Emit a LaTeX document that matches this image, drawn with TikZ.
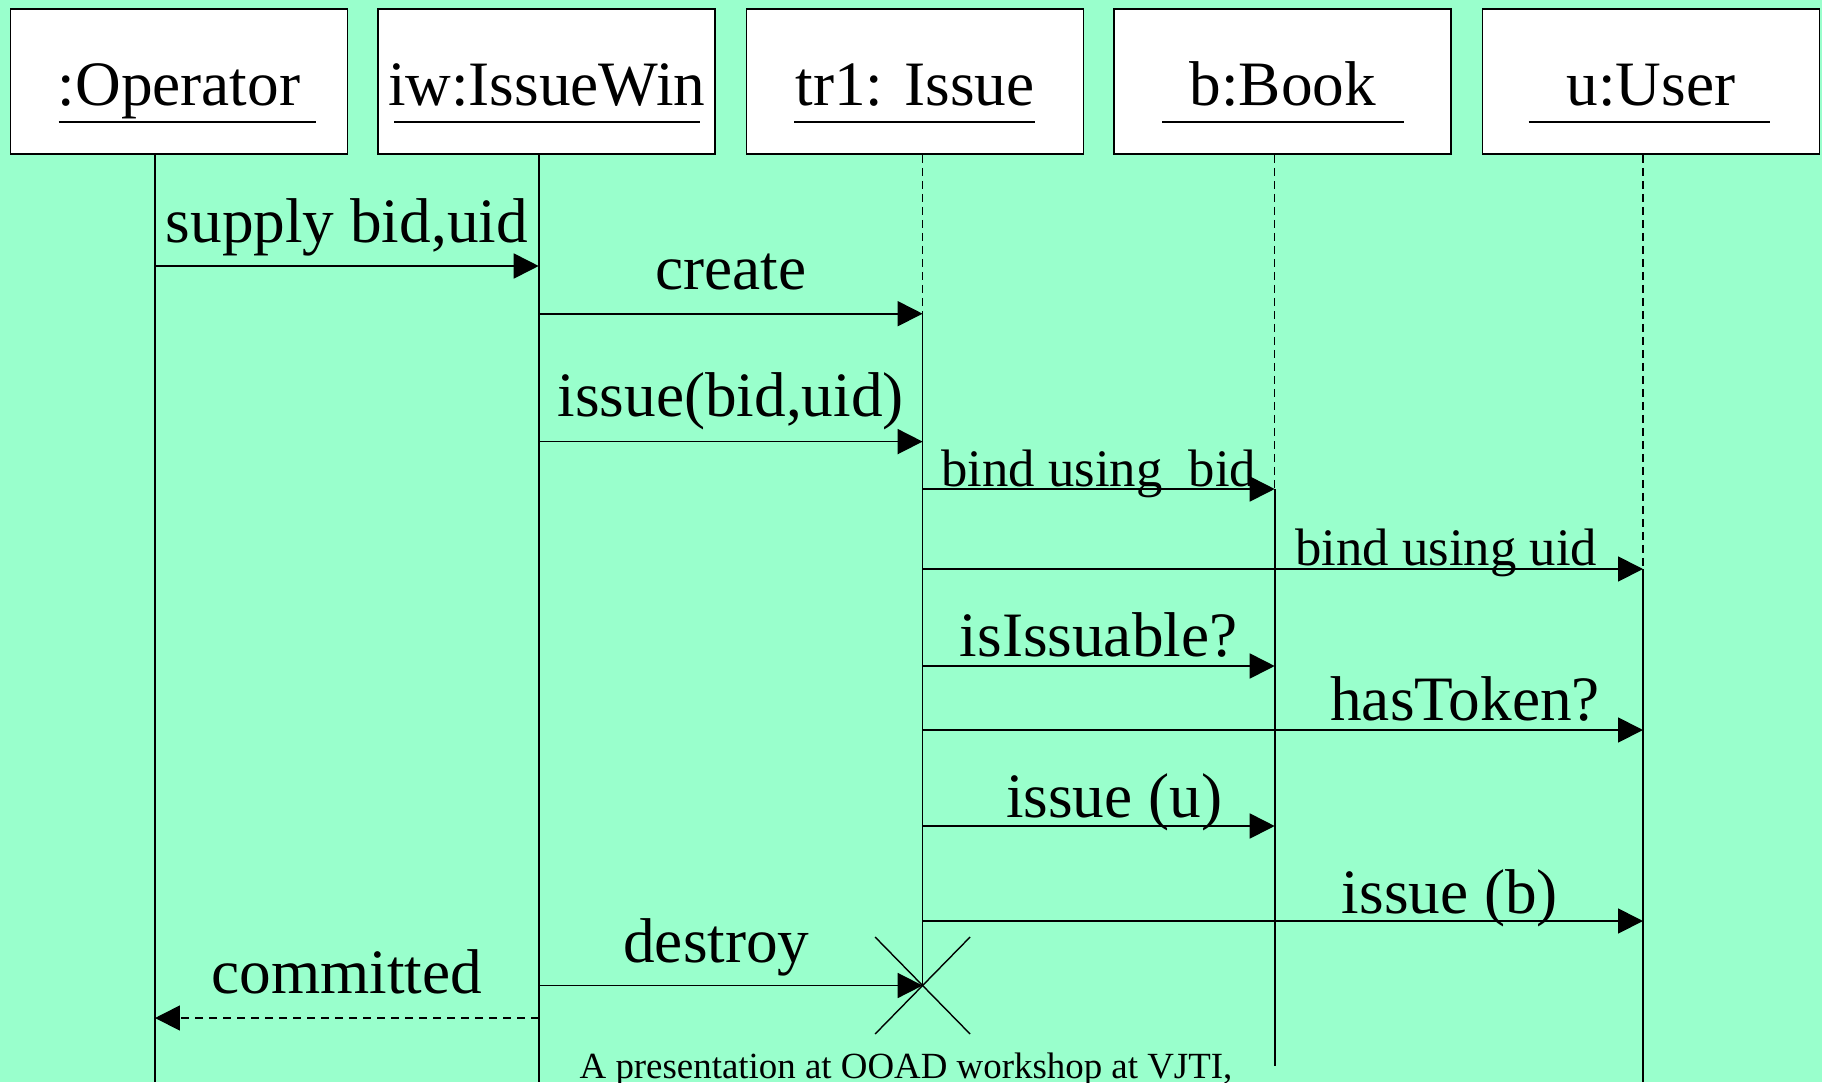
\documentclass[tikz,border=0pt]{standalone}
\usepackage{fontspec}
\setmainfont{Liberation Serif}
\usetikzlibrary{arrows.meta}
\definecolor{mint}{RGB}{153,255,204}

\begin{document}
\begin{tikzpicture}[x=0.02cm, y=-0.02cm,
		obj/.style={draw, fill=white, line width=1pt, minimum width=6.74cm, minimum height=2.9cm, inner sep=0pt, text height=0.96cm, text depth=0pt, font=\fontsize{36}{40}\selectfont},
		msg/.style={line width=1pt, -{Triangle[length=0.5cm,width=0.5cm]}},
		ret/.style={msg, dash pattern=on 0.16cm off 0.12cm},
		life/.style={line width=1pt},
		wait/.style={line width=0.8pt, dash pattern=on 0.16cm off 0.1cm},
		lbl/.style={anchor=base, inner sep=0pt, font=\fontsize{36}{40}\selectfont},
		small/.style={lbl, font=\fontsize{30}{34}\selectfont}]
			\fill[mint] (0,0) rectangle (1822,1082);
			\useasboundingbox (0,0) rectangle (1822,1082);

			\node[obj] (op) at (179,81.5) {:Operator};
			\node[obj] (iw) at (546.6,81.5) {iw:IssueWin};
			\node[obj] (tr) at (915,81.5) {tr1: Issue};
			\node[obj] (bk) at (1282.8,81.5) {b:Book};
			\node[obj] (us) at (1651,81.5) {u:User};
			\draw[life] (58.7,122)--(315.7,122);
			\draw[life] (394,122)--(699.5,122);
			\draw[life] (794,122)--(1035,122);
			\draw[life] (1162,122)--(1404,122);
			\draw[life] (1528.5,122)--(1769.5,122);

			\coordinate (opL) at (op.south -| 155,0);
			\coordinate (iwL) at (iw.south -| 538.7,0);
			\coordinate (trL) at (tr.south -| 922.6,0);
			\coordinate (bkL) at (bk.south -| 1274.7,0);
			\coordinate (usL) at (us.south -| 1643,0);
			\coordinate (end) at (trL |- 0,985.5);

			\draw[life] (opL)--(opL |- 0,1082);
			\draw[life] (iwL)--(iwL |- 0,1082);
			\draw[wait] (trL)--(trL |- 0,313.7);
			\draw[life] (trL |- 0,313.7)--(end);
			\draw[wait] (bkL)--(bkL |- 0,489);
			\draw[life] (bkL |- 0,489)--(bkL |- 0,1066);
			\draw[wait] (usL)--(usL |- 0,569);
			\draw[life] (usL |- 0,569)--(usL |- 0,1082);

			\draw[msg] (opL |- 0,266)--(iwL |- 0,266) node[lbl, midway, yshift=0.48cm] {supply bid,uid};
			\draw[msg] (iwL |- 0,313.7)--(trL |- 0,313.7) node[lbl, midway, yshift=0.48cm] {create};
			\draw[msg] (iwL |- 0,441.6)--(trL |- 0,441.6) node[lbl, midway, yshift=0.51cm] {issue(bid,uid)};
			\draw[msg] (trL |- 0,489)--(bkL |- 0,489) node[small, midway, yshift=0.06cm] {bind using\ \ bid};
			\draw[msg] (trL |- 0,569)--(usL |- 0,569) node[small, pos=0.727, yshift=0.08cm] {bind using uid};
			\draw[msg] (trL |- 0,666)--(bkL |- 0,666) node[lbl, midway, yshift=0.2cm] {isIssuable?};
			\draw[msg] (trL |- 0,730)--(usL |- 0,730) node[lbl, pos=0.753, yshift=0.2cm] {hasToken?};
			\draw[msg] (trL |- 0,826)--(bkL |- 0,826) node[lbl, pos=0.544, yshift=0.18cm] {issue (u)};
			\draw[msg] (trL |- 0,921)--(usL |- 0,921) node[lbl, pos=0.732, yshift=0.16cm] {issue (b)};
			\draw[msg] (iwL |- 0,985.5)--(end) node[lbl, pos=0.463, yshift=0.47cm] {destroy};
			\draw[ret] (iwL |- 0,1018)--(opL |- 0,1018) node[lbl, midway, yshift=0.5cm] {committed};

			\draw[line width=0.8pt] ([xshift=-0.95cm,yshift=0.97cm]end)--([xshift=0.95cm,yshift=-0.97cm]end);
			\draw[line width=0.8pt] ([xshift=0.95cm,yshift=0.97cm]end)--([xshift=-0.95cm,yshift=-0.97cm]end);

			\node[lbl, font=\fontsize{21}{24}\selectfont] (foot) at (906,1078) {A presentation at OOAD workshop at VJTI,};
		\end{tikzpicture}
\end{document}
